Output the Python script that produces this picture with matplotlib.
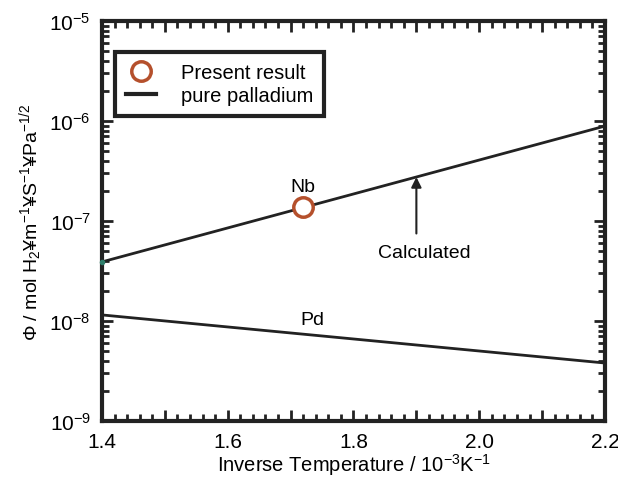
import numpy as np
import matplotlib.pyplot as plt
from matplotlib.ticker import MultipleLocator, LogLocator, NullFormatter

plt.rcParams['font.family'] = ['Liberation Sans', 'DejaVu Sans']
plt.rcParams['mathtext.default'] = 'regular'

# data
nb_x = [1.4, 2.2]
nb_y = [3.9e-8, 8.9e-7]
pd_x = [1.4, 2.2]
pd_y = [1.15e-8, 3.8e-9]
present_x = [1.72]
present_y = [1.38e-7]
edge_x = [1.4]
edge_y = [3.9e-8]

fig = plt.figure(figsize=(6.18, 4.81), dpi=100)
ax = fig.add_axes([102/618, 1-422/481, 503/618, 400/481])

ax.plot(nb_x, nb_y, color='#222222', lw=2, label='pure palladium')
ax.plot(pd_x, pd_y, color='#222222', lw=2)
ax.plot(present_x, present_y, 'o', ms=14, mfc='white', mec='#b5502c', mew=2.5,
        label='Present result', zorder=5)
ax.plot(edge_x, edge_y, 'o', ms=3, color='#2e7d6a', zorder=6, clip_on=False)

ax.set_yscale('log')
ax.set_xlim(1.4, 2.2)
ax.set_ylim(1e-9, 1e-5)

ax.xaxis.set_major_locator(MultipleLocator(0.1))
ax.xaxis.set_minor_locator(MultipleLocator(0.02))
ax.xaxis.set_major_formatter(plt.FuncFormatter(
    lambda v, p: f'{v:.1f}' if round(v * 10) % 2 == 0 else ''))
ax.yaxis.set_minor_locator(LogLocator(base=10, subs=np.arange(2, 10)))
ax.yaxis.set_minor_formatter(NullFormatter())

ax.tick_params(which='both', direction='in', top=True, right=True, width=2, color='#222222')
ax.tick_params(which='major', length=8, labelsize=15, pad=8)
ax.tick_params(which='minor', length=5)
for s in ax.spines.values():
    s.set_linewidth(3)
    s.set_color('#222222')

ax.set_xlabel('Inverse Temperature / 10$^{-3}$K$^{-1}$', fontsize=14.5, labelpad=0)
ax.set_ylabel('Φ / mol H$_2$¥m$^{-1}$¥S$^{-1}$¥Pa$^{-1/2}$', fontsize=14, labelpad=4)

ax.text(1.72, 1.8e-7, 'Nb', fontsize=14, ha='center', va='bottom')
ax.text(1.735, 8.5e-9, 'Pd', fontsize=14, ha='center', va='bottom')
ax.annotate('', xy=(1.9, 2.75e-7), xytext=(1.9, 7.5e-8),
            arrowprops=dict(arrowstyle='-|>', color='#222222', lw=1.5,
                            shrinkA=0, shrinkB=0, mutation_scale=15))
ax.text(1.912, 4.8e-8, 'Calculated', fontsize=14, ha='center', va='center')

handles, labels = ax.get_legend_handles_labels()
leg = ax.legend(handles[::-1], labels[::-1], loc='upper left',
                bbox_to_anchor=(0.026, 0.922), fontsize=14.5, fancybox=False,
                edgecolor='#222222', framealpha=1, borderpad=0.55,
                handlelength=1.5, handletextpad=1.2, labelspacing=0.2,
                borderaxespad=0)
leg.get_frame().set_linewidth(3)
leg.get_frame().set_facecolor('white')
leg.legend_handles[1].set_linewidth(3)

fig.savefig('out.png', dpi=100)
